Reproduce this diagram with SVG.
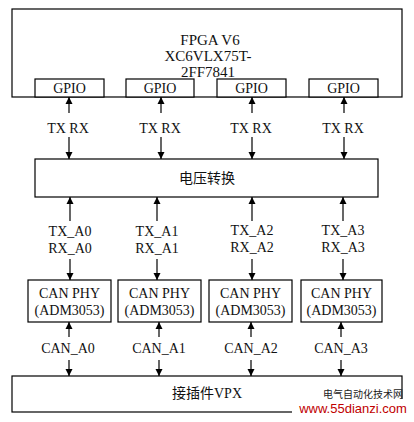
<svg xmlns="http://www.w3.org/2000/svg" width="414" height="422" viewBox="0 0 414 422">
<style>
.box{fill:#fff;stroke:#000;stroke-width:1.2}
.t{font-family:"Liberation Serif","Noto Sans CJK SC",serif;font-size:14px;fill:#111;text-anchor:middle}
.f{font-family:"Liberation Serif",serif;font-size:15px;fill:#111;text-anchor:middle}
.c{font-family:"Liberation Serif","Noto Sans CJK SC",serif;font-size:14px;fill:#111;text-anchor:middle}
.ln{stroke:#000;stroke-width:1.2;fill:none;marker-end:url(#ah)}
</style>
<defs>
<marker id="ah" viewBox="0 0 10 10" refX="10" refY="5" markerWidth="7" markerHeight="8" markerUnits="userSpaceOnUse" orient="auto">
<path d="M0,0 L10,5 L0,10 Z" fill="#000"/>
</marker>
</defs>
<rect width="414" height="422" fill="#fff"/>
<g id="fpga">
<rect class="box" x="12" y="9" width="390" height="88"/>
<text class="f" x="210" y="45">FPGA V6</text>
<text class="f" x="208" y="61">XC6VLX75T-</text>
<text class="f" x="208" y="77">2FF7841</text>
</g>
<g id="gpio1"><rect class="box" x="35" y="79" width="69" height="18"/><text class="t" x="69.5" y="93">GPIO</text></g>
<g id="gpio2"><rect class="box" x="126" y="79" width="68" height="18"/><text class="t" x="160" y="93">GPIO</text></g>
<g id="gpio3"><rect class="box" x="217" y="79" width="69" height="18"/><text class="t" x="251.5" y="93">GPIO</text></g>
<g id="gpio4"><rect class="box" x="309" y="79" width="69" height="18"/><text class="t" x="343.5" y="93">GPIO</text></g>
<g id="volt"><rect class="box" x="35" y="159" width="343" height="38"/><text class="c" x="207" y="183">电压转换</text></g>
<g id="can1"><rect class="box" x="28" y="280" width="83" height="42"/><text class="t" x="69.5" y="298">CAN PHY</text><text class="t" x="69.5" y="315">(ADM3053)</text></g>
<g id="can2"><rect class="box" x="118" y="280" width="83" height="42"/><text class="t" x="159.5" y="298">CAN PHY</text><text class="t" x="159.5" y="315">(ADM3053)</text></g>
<g id="can3"><rect class="box" x="209" y="280" width="83" height="42"/><text class="t" x="250.5" y="298">CAN PHY</text><text class="t" x="250.5" y="315">(ADM3053)</text></g>
<g id="can4"><rect class="box" x="301" y="280" width="81" height="42"/><text class="t" x="341.5" y="298">CAN PHY</text><text class="t" x="341.5" y="315">(ADM3053)</text></g>
<g id="vpx"><rect class="box" x="12" y="376" width="390" height="36"/><text class="c" x="207" y="398">接插件VPX</text></g>
<g id="connectors">
<line class="ln" x1="69" y1="113" x2="69" y2="97"/>
<line class="ln" x1="69" y1="137" x2="69" y2="159"/>
<line class="ln" x1="161" y1="113" x2="161" y2="97"/>
<line class="ln" x1="161" y1="137" x2="161" y2="159"/>
<line class="ln" x1="252" y1="113" x2="252" y2="97"/>
<line class="ln" x1="252" y1="137" x2="252" y2="159"/>
<line class="ln" x1="344" y1="113" x2="344" y2="97"/>
<line class="ln" x1="344" y1="137" x2="344" y2="159"/>
<text class="t" x="68" y="133">TX RX</text>
<text class="t" x="160" y="133">TX RX</text>
<text class="t" x="251" y="133">TX RX</text>
<text class="t" x="343" y="133">TX RX</text>
<line class="ln" x1="70" y1="221" x2="70" y2="197"/>
<line class="ln" x1="70" y1="259" x2="70" y2="280"/>
<line class="ln" x1="157" y1="221" x2="157" y2="197"/>
<line class="ln" x1="157" y1="259" x2="157" y2="280"/>
<line class="ln" x1="252" y1="221" x2="252" y2="197"/>
<line class="ln" x1="252" y1="259" x2="252" y2="280"/>
<line class="ln" x1="343" y1="221" x2="343" y2="197"/>
<line class="ln" x1="343" y1="259" x2="343" y2="280"/>
<text class="t" x="70" y="236">TX_A0</text><text class="t" x="70" y="253">RX_A0</text>
<text class="t" x="157" y="236">TX_A1</text><text class="t" x="157" y="253">RX_A1</text>
<text class="t" x="252" y="235">TX_A2</text><text class="t" x="252" y="252">RX_A2</text>
<text class="t" x="343" y="235">TX_A3</text><text class="t" x="343" y="252">RX_A3</text>
<line class="ln" x1="69" y1="337" x2="69" y2="322"/>
<line class="ln" x1="69" y1="360" x2="69" y2="376"/>
<line class="ln" x1="159" y1="337" x2="159" y2="322"/>
<line class="ln" x1="159" y1="360" x2="159" y2="376"/>
<line class="ln" x1="251" y1="337" x2="251" y2="322"/>
<line class="ln" x1="251" y1="360" x2="251" y2="376"/>
<line class="ln" x1="341" y1="337" x2="341" y2="322"/>
<line class="ln" x1="341" y1="360" x2="341" y2="376"/>
<text class="t" x="68" y="353">CAN_A0</text>
<text class="t" x="159" y="353">CAN_A1</text>
<text class="t" x="251" y="353">CAN_A2</text>
<text class="t" x="341" y="353">CAN_A3</text>
</g>
<rect x="292" y="399" width="122" height="23" fill="#fff"/>
<text x="363" y="398" font-family="'Noto Sans CJK SC',sans-serif" font-size="10" fill="#222" text-anchor="middle">电气自动化技术网</text>
<text x="353" y="413" font-family="'Liberation Sans',sans-serif" font-size="13" fill="#c00000" text-anchor="middle">www.55dianzi.com</text>
</svg>
